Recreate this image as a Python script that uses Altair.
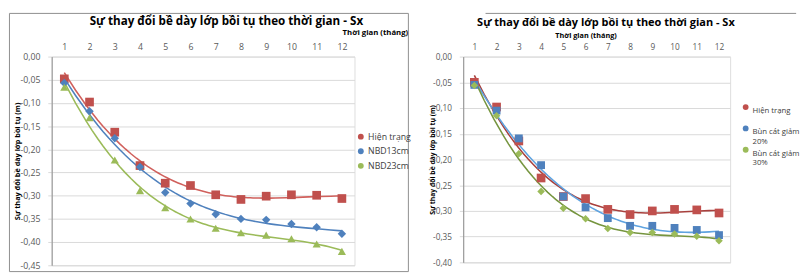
import altair as alt
import pandas as pd

months = list(range(1, 13))

left_names = ["Hiện trạng", "NBD13cm", "NBD23cm"]
left_hien_trang = [-0.048, -0.098, -0.163, -0.235, -0.273, -0.278, -0.298, -0.308, -0.301, -0.298, -0.299, -0.306]
left_nbd13 = [-0.057, -0.118, -0.176, -0.238, -0.293, -0.317, -0.340, -0.350, -0.352, -0.361, -0.368, -0.382]
left_nbd23 = [-0.066, -0.132, -0.223, -0.289, -0.326, -0.350, -0.370, -0.380, -0.385, -0.393, -0.404, -0.420]

right_names = ["Hiện trạng", "Bùn cát giảm 20%", "Bùn cát giảm 30%"]
right_hien_trang = [-0.050, -0.098, -0.164, -0.236, -0.272, -0.276, -0.297, -0.307, -0.300, -0.297, -0.298, -0.304]
right_giam20 = [-0.055, -0.105, -0.159, -0.211, -0.272, -0.293, -0.314, -0.329, -0.329, -0.333, -0.337, -0.347]
right_giam30 = [-0.056, -0.115, -0.189, -0.262, -0.295, -0.315, -0.334, -0.342, -0.342, -0.345, -0.349, -0.358]

chart_title = "Sự thay đổi bề dày lớp bồi tụ theo thời gian - Sx"
x_title = "Thời gian (tháng)"
y_title = "Sự thay đổi bề dày lớp bồi tụ (m)"
left_y_ticks = [0, -0.05, -0.10, -0.15, -0.20, -0.25, -0.30, -0.35, -0.40, -0.45]
right_y_ticks = [0, -0.05, -0.10, -0.15, -0.20, -0.25, -0.30, -0.35, -0.40]

FONT = "Open Sans"
GRID = "#D9D9D9"
AXIS = "#8C8C8C"
FRAME = "#8C8C8C"
LABEL = "#595959"


def long_df(names, cols):
    rows = []
    for n, vals in zip(names, cols):
        for m, v in zip(months, vals):
            rows.append({"month": m, "value": v, "series": n})
    return pd.DataFrame(rows)


def frame_rule(x, x2, y, y2):
    return alt.Chart(alt.Data(values=[{}])).mark_rule(color=FRAME, strokeWidth=1).encode(
        x=alt.value(x), x2=alt.value(x2), y=alt.value(y), y2=alt.value(y2)
    )


def title_text(x, y, size):
    return alt.Chart(alt.Data(values=[{}])).mark_text(
        font=FONT, fontSize=size, fontWeight="bold", color="#000000",
        align="center", baseline="middle",
    ).encode(x=alt.value(x), y=alt.value(y), text=alt.value(chart_title))


def panel(df, names, marker_colors, line_colors, shapes, sizes, ymin, yticks, w, h,
          fs, leg_fs, legend_x, legend_y, row_pad, label_base, xt_x, xt_y, yt_x,
          extras, label_expr):
    x_enc = alt.X(
        "month:Q",
        scale=alt.Scale(domain=[0.5, 12.5], nice=False, zero=False),
        axis=alt.Axis(
            orient="top", values=months, format="d", domain=False, ticks=False, grid=False,
            labelFont=FONT, labelFontSize=fs, labelColor=LABEL, labelPadding=5,
            title=x_title, titleFont=FONT, titleFontSize=fs - 1, titleFontWeight="bold",
            titleColor="#000000", titleX=xt_x, titleY=xt_y, titleAlign="center",
            titleBaseline="middle", titleAnchor="start",
        ),
    )
    y_enc = alt.Y(
        "value:Q",
        scale=alt.Scale(domain=[ymin, 0], nice=False, zero=False),
        axis=alt.Axis(
            values=yticks,
            labelExpr="replace(replace(format(datum.value, '.2f'), '.', ','), '\u2212', '-')",
            grid=True, gridColor=GRID, gridWidth=1,
            domain=True, domainColor=AXIS, ticks=True, tickColor=GRID, tickSize=4,
            labelFont=FONT, labelFontSize=fs, labelColor=LABEL, labelPadding=8,
            title=y_title, titleFont=FONT, titleFontSize=fs - 1.5, titleFontWeight="bold",
            titleColor="#000000", titleX=yt_x, titleY=h / 2, titleAngle=270,
            titleAlign="center", titleBaseline="middle", titleAnchor="start",
        ),
    )
    base = alt.Chart(df)
    lines = base.transform_regression(
        "month", "value", method="poly", order=3, groupby=["series"]
    ).mark_line(strokeWidth=1.6).encode(
        x=x_enc, y=y_enc,
        color=alt.Color("series:N", scale=alt.Scale(domain=names, range=line_colors), legend=None),
    )
    leg = alt.Legend(
        orient="none", legendX=legend_x, legendY=legend_y, title=None,
        labelFont=FONT, labelFontSize=leg_fs, labelColor="#404040",
        symbolSize=36, symbolStrokeWidth=0, padding=0, rowPadding=row_pad, labelOffset=3,
        labelBaseline=label_base, labelExpr=label_expr,
    )
    pts = base.mark_point(filled=True, opacity=1, strokeWidth=0).encode(
        x=x_enc, y=y_enc,
        color=alt.Color("series:N", scale=alt.Scale(domain=names, range=marker_colors), legend=leg),
        shape=alt.Shape("series:N", scale=alt.Scale(domain=names, range=shapes), legend=leg),
        size=alt.Size("series:N", scale=alt.Scale(domain=names, range=sizes), legend=None),
    )
    layers = [lines, pts] + extras
    return alt.layer(*layers).resolve_scale(color="independent").properties(width=w, height=h)


left_df = long_df(left_names, [left_hien_trang, left_nbd13, left_nbd23])
right_df = long_df(right_names, [right_hien_trang, right_giam20, right_giam30])

LW, LH = 312, 215
RW, RH = 275, 212
GAP = 112

left_extras = [
    frame_rule(-43.5, -43.5, -44.5, 221.5),
    frame_rule(367.5, 367.5, -44.5, 221.5),
    frame_rule(-43.5, 367.5, -44.5, -44.5),
    frame_rule(-43.5, 367.5, 221.5, 221.5),
]
# both chart titles are placed from the right panel's origin
right_extras = [
    frame_rule(23, 343, -44.5, -44.5),
    title_text(-244, -37, 12),
    title_text(147, -35, 11.3),
]

left = panel(
    left_df, left_names,
    ["#C0504D", "#4F81BD", "#9BBB59"], ["#D0605C", "#4F81BD", "#9BBB59"],
    ["square", "diamond", "triangle-up"], [80, 60, 75],
    -0.45, left_y_ticks, LW, LH, 9, 9,
    314, 78, 5, "middle", 333, -25, -35, left_extras, "datum.label",
)
right = panel(
    right_df, right_names,
    ["#C0504D", "#4F81BD", "#9BBB59"], ["#A8403D", "#5FA3E0", "#76953F"],
    ["square", "diamond", "triangle-up"], [80, 60, 75],
    -0.40, right_y_ticks, RW, RH, 8.5, 8,
    287, 48, 0, "top", 126, -22, -32, right_extras,
    "datum.label == 'Hiện trạng' ? ['Hiện trạng', ''] : split(replace(datum.label, ' giảm ', ' giảm|'), '|')",
)

chart = alt.hconcat(left, right, spacing=GAP, bounds="flush").properties(
    padding=0,
).configure_view(stroke=None).configure(background="#FFFFFF")

chart.save("out.html", embed_options={"renderer": "svg", "actions": False})
